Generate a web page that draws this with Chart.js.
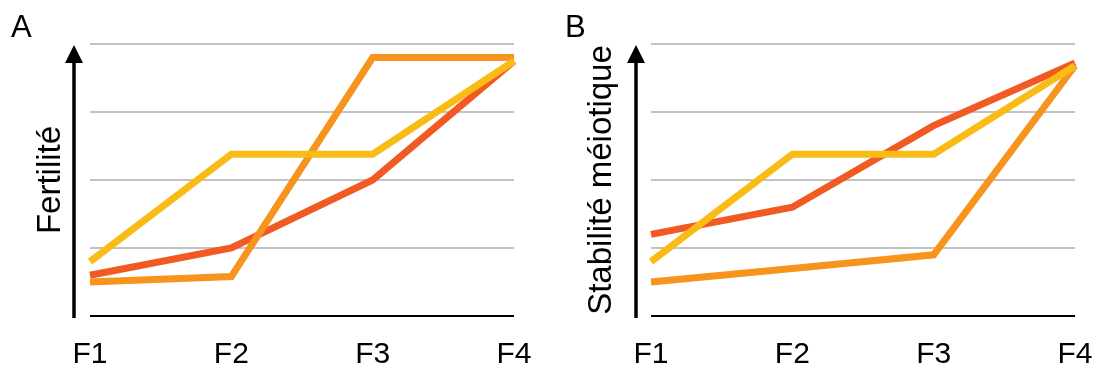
<!DOCTYPE html>
<html>
<head>
<meta charset="utf-8">
<script src="https://cdn.jsdelivr.net/npm/chart.js@4/dist/chart.umd.min.js"></script>
<style>
  body { margin: 0; background: #fff; width: 1096px; height: 374px; overflow: hidden; }
  .panel { position: absolute; top: 0; width: 548px; height: 374px; }
  .panel canvas { position: absolute; left: 0; top: 0; }
  .letter { position: absolute; top: 11px; font: 31px/1 "Liberation Sans", Arial, sans-serif; color: #000; }
</style>
</head>
<body>
<div class="panel" style="left:0"><canvas id="chartA" width="548" height="374"></canvas><div class="letter" style="left:11px">A</div></div>
<div class="panel" style="left:548px"><canvas id="chartB" width="548" height="374"></canvas><div class="letter" style="left:17px">B</div></div>
<script>
const generations = ["F1", "F2", "F3", "F4"];

// panel A - fertilité
const fertRed = [0.6, 1.0, 2.0, 3.75];
const fertOrange = [0.5, 0.58, 3.8, 3.8];
const fertYellow = [0.8, 2.38, 2.38, 3.75];

// panel B - stabilité méiotique
const meioRed = [1.2, 1.6, 2.8, 3.72];
const meioOrange = [0.5, 0.7, 0.9, 3.68];
const meioYellow = [0.8, 2.38, 2.38, 3.68];

const yMin = 0, yMax = 4, yStep = 1;

const RED = "#f15a22", ORANGE = "#f7941d", YELLOW = "#f9bb16";
const FONT = "'Liberation Sans', Arial, sans-serif";

// vertical arrow left of the plot
const arrowPlugin = {
  id: "arrow",
  afterDraw(chart, args, opts) {
    const { ctx, chartArea } = chart;
    const x = chartArea.left - opts.gap;
    const tip = chartArea.top + 1;
    const base = tip + 18;
    ctx.save();
    ctx.strokeStyle = "#000";
    ctx.fillStyle = "#000";
    ctx.lineWidth = 3.5;
    ctx.beginPath();
    ctx.moveTo(x, chartArea.bottom + 2);
    ctx.lineTo(x, base);
    ctx.stroke();
    ctx.beginPath();
    ctx.moveTo(x, tip);
    ctx.lineTo(x - 9, base);
    ctx.lineTo(x + 9, base);
    ctx.closePath();
    ctx.fill();
    ctx.restore();
  }
};

function line(data, color) {
  return {
    data: data,
    borderColor: color,
    borderWidth: 7,
    borderJoinStyle: "miter",
    borderCapStyle: "butt",
    pointRadius: 0,
    pointHoverRadius: 0,
    tension: 0,
    fill: false
  };
}

function makeChart(id, title, red, orange, yellow, padLeft, axisWidth, arrowGap, padRight) {
  return new Chart(document.getElementById(id), {
    type: "line",
    data: {
      labels: generations,
      // first dataset is drawn on top
      datasets: [line(yellow, YELLOW), line(orange, ORANGE), line(red, RED)]
    },
    options: {
      responsive: false,
      animation: false,
      events: [],
      layout: { padding: { left: padLeft, right: padRight, top: 44, bottom: 0 } },
      plugins: { legend: { display: false }, tooltip: { enabled: false }, arrow: { gap: arrowGap } },
      scales: {
        x: {
          offset: false,
          grid: { display: false, drawTicks: false },
          border: { display: false },
          ticks: { color: "#000", font: { family: FONT, size: 30 }, padding: 21, maxRotation: 0 },
          afterFit(scale) {
            scale.height = 58;
            scale.paddingLeft = 0;
            scale.paddingRight = 0;
          }
        },
        y: {
          min: yMin,
          max: yMax,
          grid: {
            drawTicks: false,
            lineWidth: 2,
            color: (c) => (c.tick && c.tick.value === yMin ? "#000" : "#c2c2c2")
          },
          border: { display: false },
          ticks: { display: false, stepSize: yStep },
          title: {
            display: true,
            text: title,
            color: "#000",
            font: { family: FONT, size: 33 },
            padding: 0
          },
          afterFit(scale) { scale.width = axisWidth; }
        }
      }
    },
    plugins: [arrowPlugin]
  });
}

makeChart("chartA", "Fertilité", fertRed, fertOrange, fertYellow, 31, 59, 16, 34);
makeChart("chartB", "Stabilité méiotique", meioRed, meioOrange, meioYellow, 34, 69, 15, 21);
</script>
</body>
</html>
